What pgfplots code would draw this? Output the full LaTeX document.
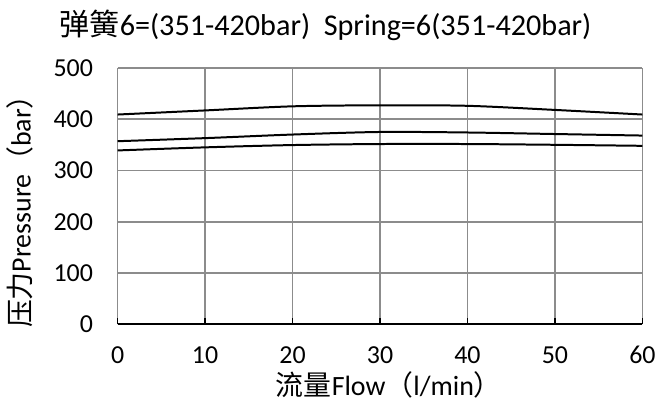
\documentclass[border=0pt]{standalone}
\usepackage{pgfplots}
\pgfplotsset{compat=1.18}
\usepackage{fontspec}
\setmainfont{Carlito}
\newfontfamily\cjk{Noto Sans CJK SC}

\begin{document}
\begin{tikzpicture}
\begin{axis}[
  scale only axis,
  width=395pt, height=193pt,
  xmin=0, xmax=60, ymin=0, ymax=500,
  xtick={0,10,...,60}, ytick={0,100,...,500},
  xtick pos=lower, ytick pos=left,
  grid=major,
  grid style={draw=black!45, line width=1.2pt},
  axis line style={draw=none},
  xtick style={draw=black, line width=1.3pt},
  ytick style={draw=none},
  tick align=inside,
  major tick length=5pt,
  ticklabel style={font=\fontsize{19.5}{22}\selectfont},
  /pgf/number format/assume math mode=true,
  xticklabel style={yshift=-13pt},
  yticklabel style={xshift=-15pt},
  clip=false,
]
% page frame of the reference
\path (rel axis cs:-0.224,-0.292) rectangle (rel axis cs:1.0285,1.2646);
\draw[black, line width=1.3pt] (rel axis cs:0,0) -- (rel axis cs:1,0);
\addplot[black, line width=1.5pt, smooth] coordinates {
  (0,409) (10,417) (20,425) (30,427) (40,426) (50,418) (60,409)
};
\addplot[black, line width=1.5pt, smooth] coordinates {
  (0,357) (10,363) (20,370) (30,375) (40,374) (50,371) (60,368)
};
\addplot[black, line width=1.5pt, smooth] coordinates {
  (0,339) (10,345) (20,349.5) (30,351.5) (40,351.5) (50,350) (60,348)
};
\node[font=\fontsize{22.7}{26}\selectfont, anchor=center]
  at (rel axis cs:0.396,1.167) {{\cjk 弹簧}6=(351-420bar)\ \ Spring=6(351-420bar)};
\node[font=\fontsize{21}{24}\selectfont, anchor=center]
  at (rel axis cs:0.517,-0.237) {{\cjk 流量}Flow{\cjk （}l/min{\cjk ）}};
\node[font=\fontsize{21}{24}\selectfont, anchor=center, rotate=90]
  at (rel axis cs:-0.186,0.467) {{\cjk 压力}Pressure{\cjk （}bar{\cjk ）}};
\end{axis}
\end{tikzpicture}
\end{document}
